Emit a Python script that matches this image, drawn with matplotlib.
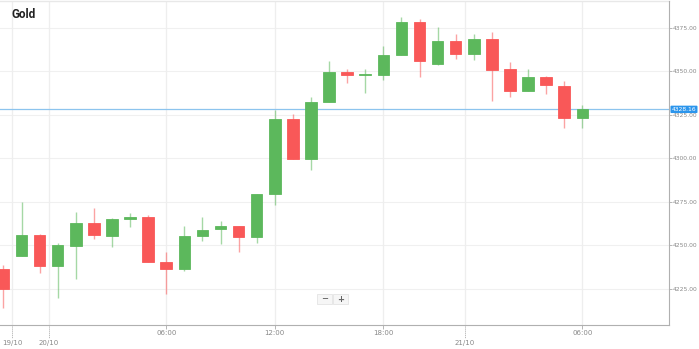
import matplotlib
matplotlib.use("Agg")
import matplotlib.pyplot as plt
from matplotlib.patches import FancyBboxPatch
import numpy as np

# hourly gold candles
opens  = [4236.3, 4244.0, 4256.1, 4238.1, 4249.7, 4262.8, 4255.5, 4264.9, 4266.1, 4240.4,
          4236.2, 4255.5, 4259.2, 4260.9, 4254.6, 4279.5, 4322.5, 4299.6, 4332.4, 4349.5,
          4348.0, 4348.0, 4359.5, 4378.3, 4354.5, 4367.3, 4360.2, 4368.8, 4351.4, 4338.8,
          4346.6, 4341.8, 4323.0]
closes = [4224.7, 4256.1, 4238.1, 4250.1, 4262.8, 4255.9, 4264.9, 4266.4, 4240.2, 4236.2,
          4255.3, 4259.0, 4260.9, 4254.6, 4279.7, 4322.6, 4299.6, 4332.6, 4349.5, 4347.8,
          4348.5, 4359.6, 4378.3, 4355.8, 4367.3, 4360.2, 4368.8, 4350.8, 4338.9, 4346.6,
          4342.0, 4323.0, 4328.16]
highs  = [4238.6, 4274.9, 4256.5, 4251.3, 4269.3, 4271.6, 4265.5, 4268.4, 4267.4, 4246.3,
          4261.1, 4266.4, 4263.8, 4261.1, 4279.7, 4327.8, 4325.3, 4335.3, 4355.8, 4351.2,
          4351.4, 4364.6, 4381.5, 4380.2, 4375.4, 4371.7, 4371.4, 4372.5, 4355.4, 4351.2,
          4347.4, 4344.7, 4330.9]
lows   = [4213.7, 4243.8, 4234.0, 4219.6, 4230.6, 4253.8, 4249.2, 4260.7, 4240.2, 4221.9,
          4235.4, 4252.4, 4250.9, 4246.3, 4251.5, 4273.2, 4299.6, 4293.3, 4332.4, 4343.2,
          4337.8, 4344.9, 4359.5, 4346.6, 4353.9, 4357.2, 4356.6, 4333.2, 4335.5, 4338.8,
          4337.2, 4317.6, 4317.6]

time_ticks = [9, 15, 21, 32]
time_labels = ["06:00", "12:00", "18:00", "06:00"]
date_ticks = [0.5, 2.5, 25.5]
date_labels = ["19/10", "20/10", "21/10"]
y_ticks = [4225, 4250, 4275, 4300, 4325, 4350, 4375]
last_price = 4328.16

green = "#5cb85c"
red = "#f95858"

fig = plt.figure(figsize=(6.99, 3.49), dpi=100)
ax = fig.add_axes([0, 1 - 325 / 349, 669 / 699, 324 / 349])

x = np.arange(len(opens))
o = np.array(opens)
c = np.array(closes)
up = c >= o
cols = np.where(up, green, red)

ax.vlines(x, lows, highs, colors=cols, linewidth=1.0, alpha=0.55, zorder=3)
ax.bar(x, np.maximum(np.abs(c - o), 0.5), bottom=np.minimum(o, c), width=0.64,
       color=cols, edgecolor=cols, linewidth=0.6, zorder=4)

ax.set_xlim(-0.19, 36.79)
ax.set_ylim(4204.1, 4390.5)

# grid
for v in y_ticks:
    ax.axhline(v, color="#f0f0f0", linewidth=0.8, zorder=1)
for t in time_ticks + date_ticks:
    ax.axvline(t, color="#eeeeee", linewidth=0.9, zorder=1)

# current price line
ax.axhline(last_price, color="#8cc4ee", linewidth=0.9, zorder=2)

for s in ["left", "top"]:
    ax.spines[s].set_visible(False)
ax.spines["right"].set_color("#b0b0b0")
ax.spines["bottom"].set_color("#b0b0b0")
ax.axhline(4390.5, color="#e8e8e8", linewidth=1.0, clip_on=False)

ax.yaxis.tick_right()
ax.set_yticks(y_ticks)
ax.set_yticklabels(["%.2f" % v for v in y_ticks])
ax.tick_params(axis="y", length=2, width=0.5, color="#999999", labelsize=4.3,
               labelcolor="#888888", pad=0.5)
ax.set_xticks(time_ticks)
ax.set_xticklabels([])
ax.tick_params(axis="x", length=3, width=0.6, color="#aaaaaa")

tr = ax.get_xaxis_transform()
for t, lab in zip(time_ticks, time_labels):
    ax.text(t, -0.016, lab, transform=tr, ha="center", va="top", fontsize=5, color="#888888")
for t, lab in zip(date_ticks, date_labels):
    ax.plot([t, t], [0, -0.04], transform=tr, color="#aaaaaa", linewidth=0.7,
            linestyle=(0, (1, 1)), clip_on=False)
    ax.text(t, -0.045, lab, transform=tr, ha="center", va="top", fontsize=5, color="#888888")

# price label on the axis
ax.text(1.004, last_price, "%.2f" % last_price, transform=ax.get_yaxis_transform(),
        ha="left", va="center", fontsize=4.3, color="white", zorder=6,
        bbox=dict(boxstyle="round,pad=0.2,rounding_size=0.15", fc="#2b95ec", ec="none"))

# title
fig.text(11 / 699, 1 - 15 / 349, "Gold", ha="left", va="center", fontsize=8.5,
         fontweight="bold", family=["Roboto", "DejaVu Sans"], color="#222222")

# zoom buttons
for i, sym in enumerate(["\u2212", "+"]):
    x0 = (317 + i * 16) / 699
    fig.patches.append(FancyBboxPatch((x0, 1 - 304 / 349), 15 / 699, 10 / 349,
                                      boxstyle="square,pad=0", transform=fig.transFigure,
                                      fc="#f6f6f6", ec="#e4e4e4", linewidth=0.6))
    fig.text(x0 + 7.5 / 699, 1 - 299 / 349, sym, ha="center", va="center",
             fontsize=6, fontweight="bold", color="#666666")

fig.savefig("out.png", dpi=100)
